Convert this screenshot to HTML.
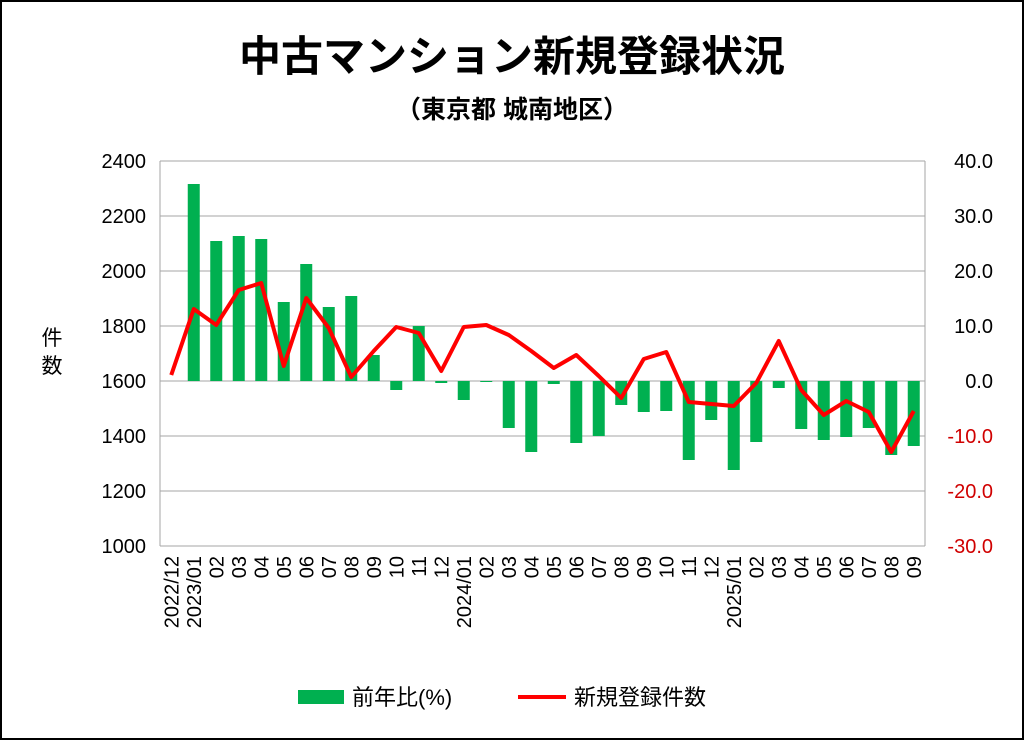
<!DOCTYPE html>
<html><head><meta charset="utf-8"><style>
html,body{margin:0;padding:0;background:#fff}
svg{display:block}
text{font-family:"Liberation Sans","Noto Sans CJK JP",sans-serif}
</style></head><body>
<svg width="1024" height="740" viewBox="0 0 1024 740" xmlns="http://www.w3.org/2000/svg">
<rect x="1" y="1" width="1022" height="738" fill="#fff" stroke="#000" stroke-width="2"/>
<text x="512" y="71" text-anchor="middle" font-size="42" font-weight="bold" font-family="Noto Sans CJK JP,sans-serif">中古マンション新規登録状況</text>
<text x="512" y="118" text-anchor="middle" font-size="25" font-weight="bold" font-family="Noto Sans CJK JP,sans-serif">（東京都 城南地区）</text>
<g stroke="#a6a6a6" stroke-width="1">
<line x1="160" y1="161" x2="925" y2="161"/><line x1="160" y1="216" x2="925" y2="216"/>
<line x1="160" y1="271" x2="925" y2="271"/><line x1="160" y1="326" x2="925" y2="326"/>
<line x1="160" y1="381" x2="925" y2="381"/><line x1="160" y1="436" x2="925" y2="436"/>
<line x1="160" y1="491" x2="925" y2="491"/><line x1="160" y1="546" x2="925" y2="546"/>
<line x1="160" y1="161" x2="160" y2="546"/><line x1="925" y1="161" x2="925" y2="546"/>
</g>
<g font-size="20" text-anchor="end" fill="#000">
<text x="146" y="168">2400</text><text x="146" y="223">2200</text><text x="146" y="278">2000</text>
<text x="146" y="333">1800</text><text x="146" y="388">1600</text><text x="146" y="443">1400</text>
<text x="146" y="498">1200</text><text x="146" y="553">1000</text>
</g>
<g font-size="20" text-anchor="end" fill="#000">
<text x="993" y="168">40.0</text><text x="993" y="223">30.0</text><text x="993" y="278">20.0</text>
<text x="993" y="333">10.0</text><text x="993" y="388">0.0</text>
</g>
<g font-size="20" text-anchor="end" fill="#d00000">
<text x="993" y="443">-10.0</text><text x="993" y="498">-20.0</text><text x="993" y="553">-30.0</text>
</g>
<text x="52" y="345" text-anchor="middle" font-size="21" font-family="Noto Sans CJK JP,sans-serif">件</text>
<text x="52" y="373" text-anchor="middle" font-size="21" font-family="Noto Sans CJK JP,sans-serif">数</text>
<g fill="#00b050" id="bars"></g>
<polyline id="line" fill="none" stroke="#ff0000" stroke-width="4" stroke-linejoin="round"/>
<g id="xl" font-size="20"></g>
<rect x="298" y="690" width="46" height="14" fill="#00b050"/>
<text x="352" y="705" font-size="22" font-family="Noto Sans CJK JP,sans-serif">前年比(%)</text>
<line x1="518" y1="697" x2="566" y2="697" stroke="#ff0000" stroke-width="4"/>
<text x="574" y="705" font-size="22" font-family="Noto Sans CJK JP,sans-serif">新規登録件数</text>
</svg>
<script>
var bt=[381,184,241,236,239,302,264,307,296,355,390,326,383,400,382,428,452,384,443,436,405,412,411,460,420,470,442,388,429,440,437,428,455,446];
var ly=[375,309,325,290,283,366,298,328,377,351,327,333,371,327,325,335,351,368,355,376,398,359,352,402,404,406,383,341,390,415,401,412,452,411];
var labs=["2022/12","2023/01","02","03","04","05","06","07","08","09","10","11","12","2024/01","02","03","04","05","06","07","08","09","10","11","12","2025/01","02","03","04","05","06","07","08","09"];
var ns="http://www.w3.org/2000/svg",g=document.getElementById("bars"),xl=document.getElementById("xl"),pts=[];
for(var i=0;i<34;i++){var cx=160+22.5*(i+0.5);
var y0=Math.min(bt[i],381),h=Math.abs(bt[i]-381);
if(h>0){var r=document.createElementNS(ns,"rect");r.setAttribute("x",cx-6);r.setAttribute("y",y0);r.setAttribute("width",12);r.setAttribute("height",h);g.appendChild(r);}
pts.push(cx+","+ly[i]);
var t=document.createElementNS(ns,"text");t.setAttribute("transform","translate("+(cx+7)+",556) rotate(-90)");t.setAttribute("text-anchor","end");t.textContent=labs[i];xl.appendChild(t);}
document.getElementById("line").setAttribute("points",pts.join(" "));
</script>
</body></html>
